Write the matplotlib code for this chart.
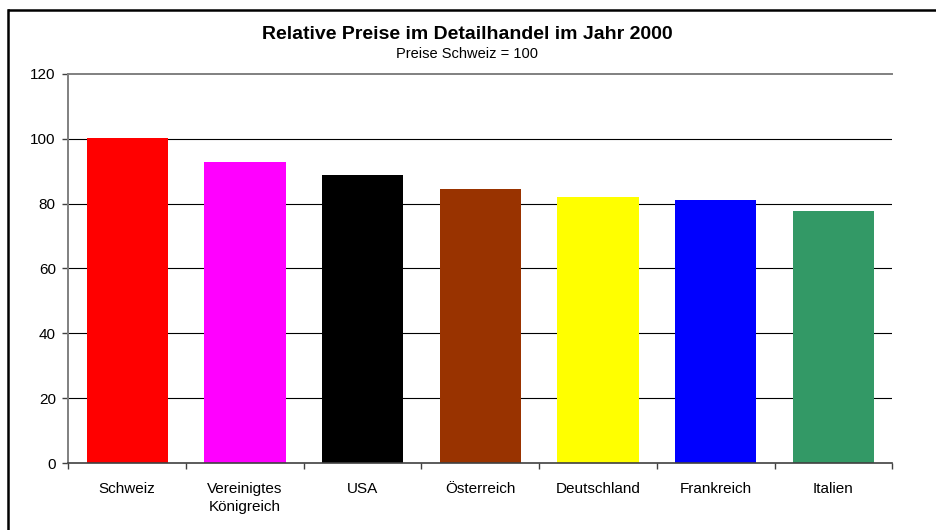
import matplotlib
matplotlib.use("Agg")
import matplotlib.pyplot as plt
from matplotlib.lines import Line2D

plt.rcParams['font.family'] = ['Liberation Sans', 'DejaVu Sans']

laender = ["Schweiz", "Vereinigtes\nKönigreich", "USA", "Österreich",
           "Deutschland", "Frankreich", "Italien"]
preise = [100.4, 92.7, 88.8, 84.6, 82.1, 81.2, 77.8]
farben = ["#FF0000", "#FF00FF", "#000000", "#993300",
          "#FFFF00", "#0000FF", "#339966"]
y_ticks = [0, 20, 40, 60, 80, 100, 120]

fig = plt.figure(figsize=(9.36, 5.30), dpi=100)
ax = fig.add_axes([0.073, 0.1264, 0.8803, 0.734])

x = list(range(len(laender)))
ax.bar(x, preise, width=0.69, color=farben, zorder=3)

ax.set_xlim(-0.5, len(laender) - 0.5)
ax.set_ylim(0, 120)
ax.set_yticks(y_ticks)
ax.set_yticklabels([str(v) for v in y_ticks], fontsize=11)

# category labels in the middle, tick marks on the boundaries
ax.set_xticks(x)
ax.set_xticklabels(laender, fontsize=11, linespacing=1.35)
ax.tick_params(axis='x', which='major', length=0, pad=14)
ax.set_xticks([i - 0.5 for i in range(len(laender) + 1)], minor=True)
ax.tick_params(axis='x', which='minor', length=4, width=1, color='#404040',
               direction='out')
ax.tick_params(axis='y', length=4, width=1, color='#404040', pad=5)

for v in y_ticks[1:-1]:
    ax.axhline(v, color='black', lw=0.8, zorder=1)

ax.spines['right'].set_visible(False)
ax.spines['top'].set_color('#808080')
ax.spines['top'].set_linewidth(1.4)
ax.spines['left'].set_color('#808080')
ax.spines['left'].set_linewidth(1.4)
ax.spines['bottom'].set_color('#404040')
ax.spines['bottom'].set_linewidth(1.2)
ax.spines['bottom'].set_zorder(4)

fig.text(0.499, 0.935, "Relative Preise im Detailhandel im Jahr 2000",
         ha='center', va='center', fontsize=14, fontweight='bold')
fig.text(0.499, 0.898, "Preise Schweiz = 100", ha='center', va='center',
         fontsize=10.5)

# frame lines along top and left edge
fig.add_artist(Line2D([8.5 / 936, 1.0], [1 - 10 / 530, 1 - 10 / 530],
                      transform=fig.transFigure, color='black', lw=1.8))
fig.add_artist(Line2D([8 / 936, 8 / 936], [0.0, 1 - 10 / 530],
                      transform=fig.transFigure, color='black', lw=1.8))

fig.savefig("out.png", dpi=100, facecolor='white')
